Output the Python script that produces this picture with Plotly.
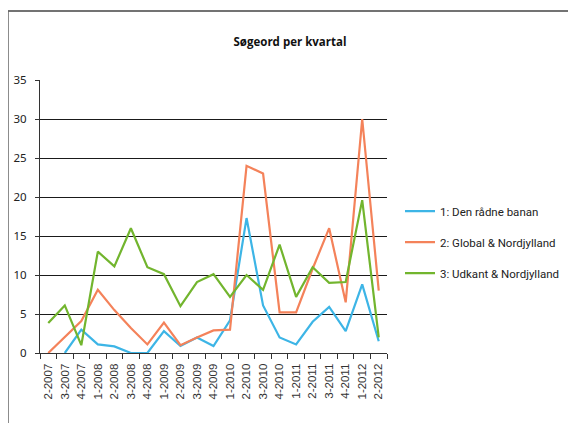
import plotly.graph_objects as go

categories = ["2-2007", "3-2007", "4-2007", "1-2008", "2-2008", "3-2008", "4-2008",
              "1-2009", "2-2009", "3-2009", "4-2009", "1-2010", "2-2010", "3-2010",
              "4-2010", "1-2011", "2-2011", "3-2011", "4-2011", "1-2012", "2-2012"]

den_raadne_banan = [None, 0, 3.0, 1.1, 0.85, 0, 0, 2.8, 0.9, 2.0, 0.9, 4.2, 17.3, 6.1,
                    2.0, 1.1, 4.0, 5.9, 2.8, 8.8, 1.5]
global_nordjylland = [0, 2.0, 4.1, 8.1, 5.5, 3.2, 1.1, 3.9, 1.0, 2.0, 2.9, 3.0, 24.0, 23.0,
                      5.2, 5.2, 10.8, 16.0, 6.5, 30.0, 8.0]
udkant_nordjylland = [3.85, 6.1, 1.0, 13.0, 11.1, 16.0, 11.0, 10.1, 6.0, 9.1, 10.1, 7.2, 10.0, 8.1,
                      13.9, 7.2, 11.0, 9.0, 9.1, 19.6, 2.0]

series_names = ["1: Den rådne banan", "2: Global & Nordjylland", "3: Udkant & Nordjylland"]
series_values = [den_raadne_banan, global_nordjylland, udkant_nordjylland]
series_colors = ["#3DB5E6", "#F4825A", "#72B52E"]

W, H = 576, 423
# page body margin offsets the figure by 8px; positions below are in figure pixels
OFF = 8
L, R, T, B = 40 - OFF, 387 - OFF, 80 - OFF, 352.7 - OFF

fig = go.Figure()
for i, (name, vals, col) in enumerate(zip(series_names, series_values, series_colors)):
    fig.add_trace(go.Scatter(
        x=categories, y=vals, name=name, mode="lines",
        line=dict(color=col, width=2.2),
        legendgroup=f"g{i}", connectgaps=False,
    ))

def px_x(p):
    return (p - OFF - L) / (R - L)

def px_y(p):
    return (B - (p - OFF)) / (B - T)

fig.update_layout(
    width=W, height=H,
    margin=dict(l=L, r=W - R, t=T, b=H - B, pad=0, autoexpand=False),
    paper_bgcolor="white", plot_bgcolor="white",
    title=dict(text="<b>Søgeord per kvartal</b>", x=(290 - OFF) / W, xanchor="center",
               y=1 - (42 - OFF) / H, yanchor="middle",
               font=dict(family="Open Sans, Noto Sans, sans-serif", size=11.5, color="#111")),
    showlegend=True,
    legend=dict(x=px_x(400), xanchor="left", y=px_y(242), yanchor="middle",
                tracegroupgap=12, traceorder="grouped",
                font=dict(family="Roboto, Noto Sans, sans-serif", size=11.5, color="#222"),
                bgcolor="rgba(0,0,0,0)"),
    xaxis=dict(type="category", showgrid=False, showline=True, linecolor="#333", linewidth=1.2,
               ticks="outside", ticklen=5, tickcolor="#333", tickson="boundaries",
               tickangle=-90, ticklabelstandoff=5,
               tickfont=dict(family="Liberation Sans, Arial, sans-serif", size=11.5, color="#333"),
               range=[-0.5, len(categories) - 0.5], zeroline=False),
    yaxis=dict(range=[0, 35], dtick=5, showgrid=True, gridcolor="#1a1a1a", gridwidth=1.1,
               showline=True, linecolor="#333", linewidth=1.2, ticks="outside", ticklen=4,
               tickcolor="#333", zeroline=False, ticklabelstandoff=6,
               tickfont=dict(family="Noto Sans, sans-serif", size=11.5, color="#222")),
    shapes=[
        dict(type="line", xref="paper", yref="paper", x0=px_x(8), x1=px_x(W + 20),
             y0=px_y(11), y1=px_y(11), line=dict(color="#444", width=1.5)),
        dict(type="line", xref="paper", yref="paper", x0=px_x(8), x1=px_x(8),
             y0=px_y(11), y1=px_y(H + 20), line=dict(color="#666", width=1.5)),
    ],
)

fig.write_html("out.html")
